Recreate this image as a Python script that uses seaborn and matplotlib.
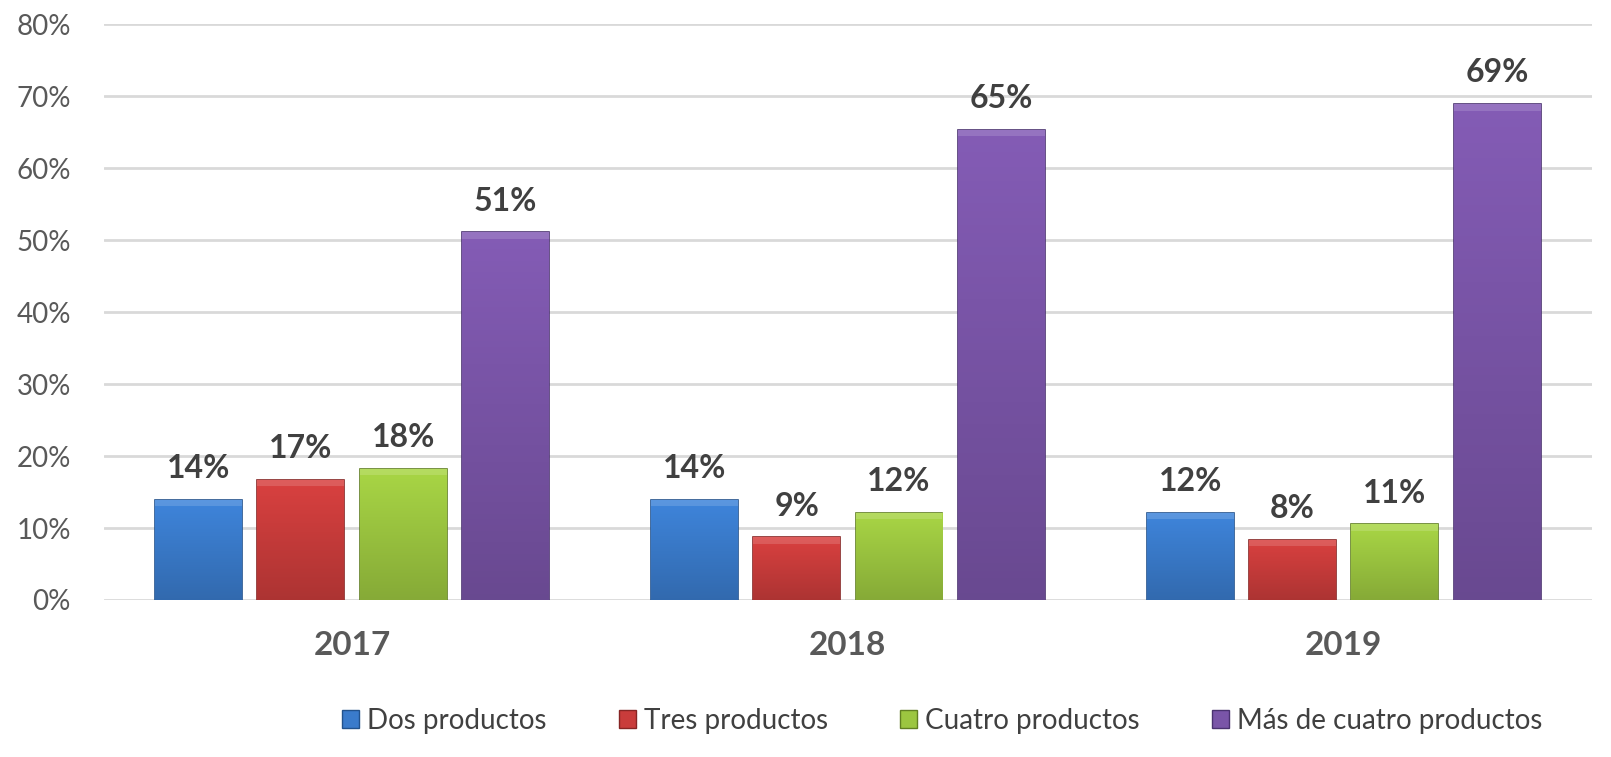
import matplotlib
matplotlib.use("Agg")
import matplotlib.pyplot as plt
import matplotlib.colors as mcolors
import seaborn as sns
import pandas as pd
import numpy as np

# data
years = ["2017", "2018", "2019"]
series = ["Dos productos", "Tres productos", "Cuatro productos", "Más de cuatro productos"]
dos = [13.9, 13.9, 12.1]
tres = [16.7, 8.7, 8.4]
cuatro = [18.2, 12.1, 10.5]
mas = [51.1, 65.3, 68.9]
labels = [["14%", "14%", "12%"], ["17%", "9%", "8%"], ["18%", "12%", "11%"], ["51%", "65%", "69%"]]
colors = ["#3a7bcb", "#c93c3b", "#9cc640", "#7a55a8"]
edges = ["#22528c", "#862524", "#617f22", "#4a3270"]

rows = []
for name, vals in zip(series, [dos, tres, cuatro, mas]):
    for y, v in zip(years, vals):
        rows.append({"Año": y, "Serie": name, "Valor": v})
df = pd.DataFrame(rows)

sns.set_style("white")
plt.rcParams["font.family"] = ["Lato", "DejaVu Sans"]

fig = plt.figure(figsize=(16.11, 7.57), dpi=100)
ax = fig.add_axes([0.0646, 0.2074, 0.9234, 0.7606])

sns.barplot(data=df, x="Año", y="Valor", hue="Serie", hue_order=series,
            palette=colors, saturation=1, width=0.825, gap=0.15, ax=ax, legend=False)

# light-to-dark shading inside each bar, clipped to the bar itself
for i, cont in enumerate(ax.containers):
    base = np.array(mcolors.to_rgb(colors[i]))
    for bar in cont:
        bar.set_edgecolor(edges[i])
        bar.set_linewidth(1.2)
        x0, w, h = bar.get_x(), bar.get_width(), bar.get_height()
        t = np.linspace(0, 1, 64)[:, None]
        shade = 1.08 - 0.22 * t
        grad = np.clip(base[None, :] * shade[..., None], 0, 1)
        grad = np.repeat(grad, 2, axis=1)
        im = ax.imshow(grad, extent=(x0, x0 + w, 0, h), origin="upper",
                       aspect="auto", zorder=bar.get_zorder() + 0.1)
        im.set_clip_path(bar)
        top = plt.Rectangle((x0, h - 0.9), w, 0.9, facecolor="white", alpha=0.15,
                            edgecolor="none", zorder=bar.get_zorder() + 0.2)
        ax.add_patch(top)
        top.set_clip_path(bar)
    ax.bar_label(cont, labels=labels[i], padding=12, fontsize=23,
                 fontweight="bold", color="#404040")

ax.set_ylim(0, 80)
ax.set_xlim(-0.5, 2.5)
ax.set_yticks(range(0, 81, 10))
ax.set_yticklabels([f"{t}%" for t in range(0, 81, 10)], fontsize=20, color="#595959")
ax.tick_params(axis="y", length=0, pad=24)
ax.tick_params(axis="x", length=0, pad=22)
for t in ax.get_xticklabels():
    t.set_fontsize(24)
    t.set_fontweight("bold")
    t.set_color("#595959")
ax.set_xlabel("")
ax.set_ylabel("")
ax.yaxis.grid(True, color="#d9d9d9", linewidth=2)
ax.set_axisbelow(True)
sns.despine(ax=ax, left=True, top=True, right=True, bottom=True)

handles = [plt.Rectangle((0, 0), 1, 1, facecolor=c, edgecolor=e) for c, e in zip(colors, edges)]
fig.legend(handles, series, loc="center", bbox_to_anchor=(0.585, 0.048), ncol=4,
           frameon=False, fontsize=20, handlelength=0.6, handleheight=0.6,
           handletextpad=0.3, columnspacing=2.6, labelcolor="#404040")

fig.savefig("out.png", dpi=100)
